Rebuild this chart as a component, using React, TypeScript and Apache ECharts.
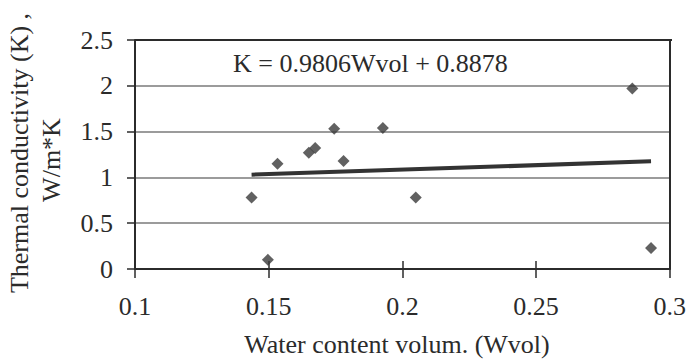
import React, { useEffect, useRef } from "react";
import * as echarts from "echarts";

const wvol = [0.1436, 0.1497, 0.1533, 0.165, 0.1674, 0.1745, 0.178, 0.1927, 0.205, 0.286, 0.293];
const kValues = [0.78, 0.1, 1.15, 1.27, 1.32, 1.53, 1.18, 1.54, 0.78, 1.97, 0.23];
const trendX = [0.1436, 0.293];
const trendY = [1.03, 1.175];
const xTicks = [0.1, 0.15, 0.2, 0.25, 0.3];
const yTicks = [0, 0.5, 1, 1.5, 2, 2.5];
const equation = "K = 0.9806Wvol + 0.8878";
const xTitle = "Water content volum. (Wvol)";
const yTitle = ["Thermal conductivity (K) ,", "W/m*K"];

const FONT = "Liberation Serif, Times New Roman, serif";
const INK = "#2b2b2b";

export default function App() {
  const ref = useRef<HTMLDivElement>(null);
  useEffect(() => {
    if (!ref.current) return;
    const chart = echarts.init(ref.current, null, { renderer: "svg" });
    const points = wvol.map((x, i) => [x, kValues[i]]);
    const trend = trendX.map((x, i) => [x, trendY[i]]);
    chart.setOption({
      animation: false,
      backgroundColor: "#ffffff",
      grid: { left: 135, right: 17, top: 40, bottom: 95, containLabel: false, show: false },
      xAxis: [
        {
          type: "value",
          min: xTicks[0],
          max: xTicks[xTicks.length - 1],
          interval: 0.05,
          axisLine: { show: true, onZero: false, lineStyle: { color: INK, width: 2 } },
          axisTick: { show: true, inside: false, length: 9, lineStyle: { color: INK, width: 1.5 } },
          axisLabel: {
            margin: 24,
            color: INK,
            fontFamily: FONT,
            fontSize: 26,
            formatter: (v: number) => String(Math.round(v * 100) / 100),
          },
          splitLine: { show: false },
        },
        {
          type: "value",
          position: "bottom",
          min: xTicks[0],
          max: xTicks[xTicks.length - 1],
          interval: 0.05,
          axisLine: { show: false },
          axisTick: { show: true, inside: true, length: 8, lineStyle: { color: INK, width: 1.5 } },
          axisLabel: { show: false },
          splitLine: { show: false },
        },
      ],
      yAxis: [
        {
          type: "value",
          min: yTicks[0],
          max: yTicks[yTicks.length - 1],
          interval: 0.5,
          axisLine: { show: true, onZero: false, lineStyle: { color: INK, width: 2 } },
          axisTick: { show: true, inside: false, length: 8, lineStyle: { color: INK, width: 1.5 } },
          axisLabel: { margin: 22, color: INK, fontFamily: FONT, fontSize: 26 },
          splitLine: { show: true, lineStyle: { color: "#7a7a7a", width: 1.5 } },
        },
        {
          type: "value",
          position: "right",
          min: yTicks[0],
          max: yTicks[yTicks.length - 1],
          interval: 0.5,
          axisLine: { show: true, onZero: false, lineStyle: { color: INK, width: 2 } },
          axisTick: { show: false },
          axisLabel: { show: false },
          splitLine: { show: false },
        },
      ],
      graphic: [
        {
          type: "line",
          shape: { x1: 135, y1: 40, x2: 672, y2: 40 },
          style: { stroke: INK, lineWidth: 2 },
          z: 10,
        },
        {
          type: "text",
          left: 233,
          top: 50,
          style: { text: equation, fill: INK, fontFamily: FONT, fontSize: 26 },
        },
        {
          type: "text",
          x: 19,
          y: 153,
          rotation: Math.PI / 2,
          style: {
            text: yTitle[0],
            fill: INK,
            fontFamily: FONT,
            fontSize: 26,
            align: "center",
            verticalAlign: "middle",
          },
        },
        {
          type: "text",
          x: 51,
          y: 160,
          rotation: Math.PI / 2,
          style: {
            text: yTitle[1],
            fill: INK,
            fontFamily: FONT,
            fontSize: 26,
            align: "center",
            verticalAlign: "middle",
          },
        },
        {
          type: "text",
          x: 397,
          y: 344,
          style: {
            text: xTitle,
            fill: INK,
            fontFamily: FONT,
            fontSize: 26,
            align: "center",
            verticalAlign: "middle",
          },
        },
      ],
      series: [
        {
          type: "line",
          data: trend,
          symbol: "none",
          lineStyle: { color: "#333333", width: 4 },
          z: 3,
        },
        {
          type: "scatter",
          data: points,
          symbol: "diamond",
          symbolSize: 12,
          itemStyle: { color: "#3a3a3a" },
          z: 4,
        },
      ],
    });
    return () => chart.dispose();
  }, []);
  return (
    <div
      ref={ref}
      style={{ position: "fixed", left: 0, top: 0, width: 689, height: 364, background: "#fff" }}
    />
  );
}
